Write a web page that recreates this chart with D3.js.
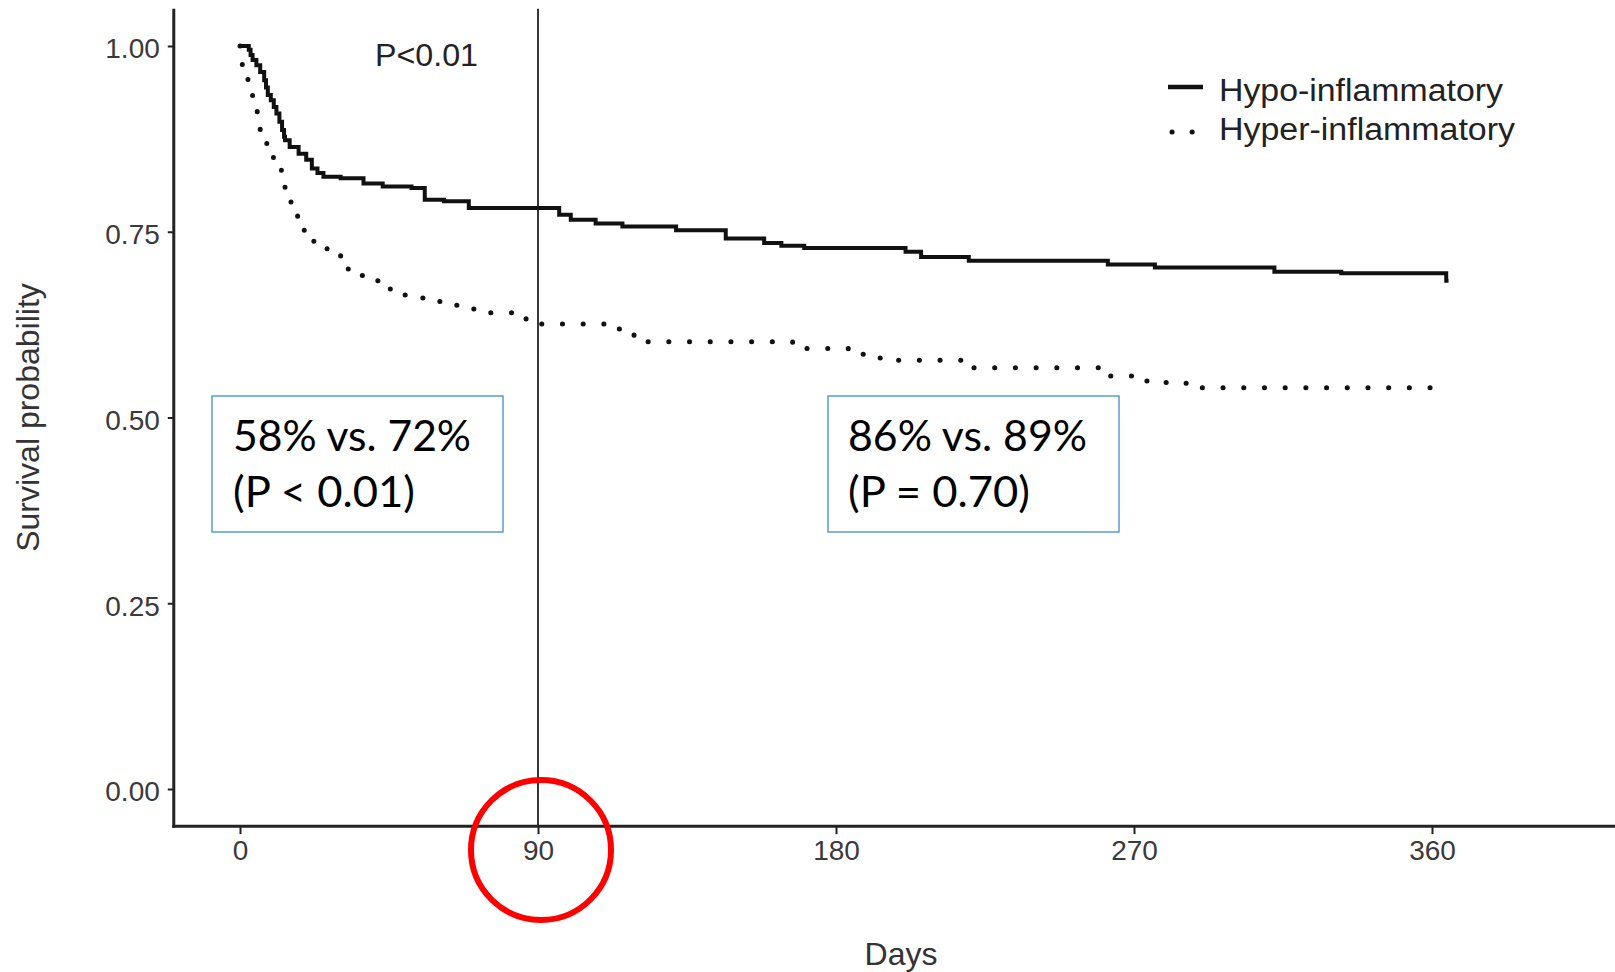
<!DOCTYPE html>
<html>
<head>
<meta charset="utf-8">
<script src="https://cdn.jsdelivr.net/npm/d3@7"></script>
<style>
  html, body { margin: 0; padding: 0; background: #ffffff; }
  svg { display: block; }
</style>
</head>
<body>
<div id="chart"></div>
<script>
// ---------------- data ----------------
const seriesNames = ["Hypo-inflammatory", "Hyper-inflammatory"];

const hypoDays = [0, 2.65, 3.2, 3.8, 4.95, 6.1, 7.3, 7.85, 8.4, 9.3, 10.2, 11, 11.9, 12.7, 13.3, 13.6, 15, 17.7, 20, 21.7, 23.4, 25.2,
  30.4, 37.3, 43.1, 51.8, 55.8, 61.6, 69.1,
  96.4, 99.9, 107.4, 115.5, 131.7, 146.7, 158.3, 163.5, 170.4, 201, 205.7, 220.1, 262.1, 276.3, 312.4, 332.6, 364.3, 365];
const hypoSurv = [1.0, 0.995, 0.988, 0.981, 0.974, 0.965, 0.954, 0.944, 0.934, 0.927, 0.918, 0.909, 0.898, 0.887, 0.878, 0.873, 0.864, 0.855, 0.847, 0.835, 0.829, 0.824,
  0.822, 0.815, 0.811, 0.809, 0.793, 0.791, 0.782,
  0.773, 0.766, 0.761, 0.757, 0.752, 0.741, 0.735, 0.731, 0.728, 0.723, 0.716, 0.711, 0.706, 0.702, 0.696, 0.694, 0.684, 0.684];

const hyperDays = [0, 0.7, 2.4, 3.8, 5.2, 6.1, 8.1, 10.1, 12.5, 13.6, 15.4, 17.4, 19.4, 22.3, 26.3, 30.4, 32.7, 37.3, 42.5, 45.4,
  50, 55.8, 61, 66.2, 71.4, 86.4, 110.3, 116.1, 119, 166.9, 183.7, 189.3, 194, 220, 261.5, 272, 278, 284, 289, 365];
const hyperSurv = [1.0, 0.973, 0.951, 0.929, 0.906, 0.883, 0.864, 0.843, 0.826, 0.804, 0.782, 0.764, 0.743, 0.730, 0.721, 0.710, 0.691, 0.684, 0.680, 0.665,
  0.661, 0.656, 0.651, 0.646, 0.641, 0.626, 0.619, 0.617, 0.602, 0.593, 0.585, 0.580, 0.577, 0.567, 0.556, 0.549, 0.547, 0.546, 0.540, 0.540];

const xTicks = [0, 90, 180, 270, 360];
const yTicks = [0, 0.25, 0.5, 0.75, 1.0];
const yTickLabels = ["0.00", "0.25", "0.50", "0.75", "1.00"];
const xTitle = "Days";
const yTitle = "Survival probability";
const pText = "P<0.01";
const landmarkDay = 90;
const boxTexts = [["58% vs. 72%", "(P < 0.01)"], ["86% vs. 89%", "(P = 0.70)"]];

// ---------------- layout ----------------
const W = 1615, H = 972;
const svg = d3.select("#chart").append("svg").attr("width", W).attr("height", H);

const x = d3.scaleLinear().domain([0, 360]).range([240, 1432]);
const y = d3.scaleLinear().domain([0, 1]).range([789, 46]);
const xLim = [-20, 420];
const yLim = [-0.05, 1.05];

const axisFont = "'Liberation Sans', Arial, sans-serif";
const axisCol = "#3a3a3a";

// y axis
const yAxis = d3.axisLeft(y).tickValues(yTicks).tickFormat((d, i) => yTickLabels[i])
  .tickSize(6).tickSizeOuter(0).tickPadding(8);
const gy = svg.append("g").attr("transform", `translate(${x(xLim[0])},0)`).call(yAxis);
gy.select(".domain").remove();
gy.selectAll(".tick line").attr("stroke", "#222").attr("stroke-width", 2);
gy.selectAll(".tick text").attr("font-family", axisFont).attr("font-size", 28)
  .attr("fill", axisCol).attr("dy", "0.42em");

// x axis
const xAxis = d3.axisBottom(x).tickValues(xTicks).tickFormat(d3.format("d"))
  .tickSize(8).tickSizeOuter(0).tickPadding(6);
const gx = svg.append("g").attr("transform", `translate(0,${y(yLim[0])})`).call(xAxis);
gx.select(".domain").remove();
gx.selectAll(".tick line").attr("stroke", "#222").attr("stroke-width", 2);
gx.selectAll(".tick text").attr("font-family", axisFont).attr("font-size", 28)
  .attr("fill", axisCol);

// axis lines
svg.append("line")
  .attr("x1", x(xLim[0])).attr("x2", x(xLim[0]))
  .attr("y1", y(yLim[1])).attr("y2", y(yLim[0]) + 1.5)
  .attr("stroke", "#222").attr("stroke-width", 3);
svg.append("line")
  .attr("x1", x(xLim[0]) - 1.5).attr("x2", x(xLim[1]))
  .attr("y1", y(yLim[0])).attr("y2", y(yLim[0]))
  .attr("stroke", "#222").attr("stroke-width", 3);

// axis titles
svg.append("text").attr("x", x(180) + 65).attr("y", 965)
  .attr("text-anchor", "middle").attr("font-family", axisFont).attr("font-size", 32)
  .attr("fill", "#333").text(xTitle);
svg.append("text").attr("transform", `translate(39,${y(0.5)}) rotate(-90)`)
  .attr("text-anchor", "middle").attr("font-family", axisFont).attr("font-size", 32)
  .attr("fill", "#333").text(yTitle);

// landmark vertical line
svg.append("line")
  .attr("x1", x(landmarkDay)).attr("x2", x(landmarkDay))
  .attr("y1", y(yLim[1])).attr("y2", y(yLim[0]))
  .attr("stroke", "#222").attr("stroke-width", 1.8);

// curves
const line = d3.line().curve(d3.curveStepAfter).x(d => x(d[0])).y(d => y(d[1]));
const hypo = hypoDays.map((d, i) => [d, hypoSurv[i]]);
const hyper = hyperDays.map((d, i) => [d, hyperSurv[i]]);

svg.append("path").datum(hyper).attr("d", line)
  .attr("fill", "none").attr("stroke", "#111").attr("stroke-width", 5)
  .attr("stroke-linecap", "round").attr("stroke-dasharray", "0.1 20.6");
svg.append("path").datum(hypo).attr("d", line)
  .attr("fill", "none").attr("stroke", "#111").attr("stroke-width", 4)
  .attr("stroke-linejoin", "miter");

// P value text
svg.append("text").attr("x", 375).attr("y", 66).attr("font-family", axisFont)
  .attr("font-size", 31).attr("fill", "#222")
  .attr("textLength", 103).attr("lengthAdjust", "spacingAndGlyphs").text(pText);

// legend
const legX = 1168, legY = [87, 132], legTextY = [101, 140];
svg.append("line").attr("x1", legX).attr("x2", legX + 35).attr("y1", legY[0]).attr("y2", legY[0])
  .attr("stroke", "#111").attr("stroke-width", 4.5);
svg.append("line").attr("x1", legX + 4).attr("x2", legX + 35).attr("y1", legY[1]).attr("y2", legY[1])
  .attr("stroke", "#111").attr("stroke-width", 5).attr("stroke-linecap", "round")
  .attr("stroke-dasharray", "0.1 20");
seriesNames.forEach((s, i) => {
  svg.append("text").attr("x", 1219).attr("y", legTextY[i])
    .attr("font-family", axisFont).attr("font-size", 31).attr("fill", "#222")
    .attr("textLength", i === 0 ? 284 : 296).attr("lengthAdjust", "spacingAndGlyphs").text(s);
});

// annotation boxes
const boxes = [
  { x0: 212, y0: 396, w: 291, h: 136, tx: 233, lens: [238, 182] },
  { x0: 828, y0: 396, w: 291, h: 136, tx: 848, lens: [239, 182] }
];
boxes.forEach((b, i) => {
  svg.append("rect").attr("x", b.x0).attr("y", b.y0).attr("width", b.w).attr("height", b.h)
    .attr("fill", "#fff").attr("stroke", "#5b9bd5").attr("stroke-width", 1.5);
  boxTexts[i].forEach((t, j) => {
    svg.append("text").attr("x", b.tx).attr("y", b.y0 + 55 + j * 56)
      .attr("font-family", "Lato, 'Open Sans', sans-serif").attr("font-size", 42).attr("fill", "#000")
      .attr("textLength", b.lens[j]).attr("lengthAdjust", "spacingAndGlyphs").text(t);
  });
});

// red circle highlighting day 90
svg.append("circle").attr("cx", x(landmarkDay) + 3).attr("cy", 850).attr("r", 70)
  .attr("fill", "none").attr("stroke", "#ff0000").attr("stroke-width", 6);
</script>
</body>
</html>
